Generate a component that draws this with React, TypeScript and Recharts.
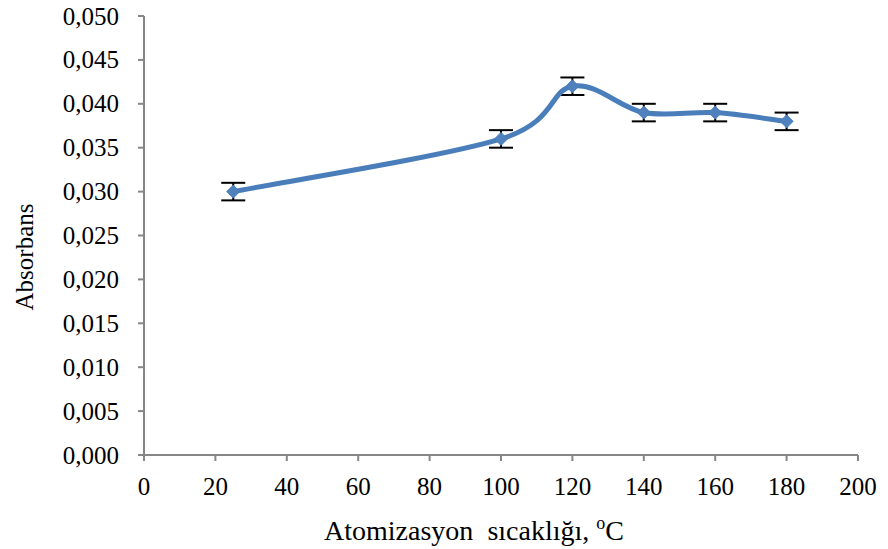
import React from 'react';
import { LineChart, Line, XAxis, YAxis, ErrorBar, Label } from 'recharts';

const temps = [25, 100, 120, 140, 160, 180];
const absorbans = [0.030, 0.036, 0.042, 0.039, 0.039, 0.038];
const errors = [0.001, 0.001, 0.001, 0.001, 0.001, 0.001];
const xTicks = [0, 20, 40, 60, 80, 100, 120, 140, 160, 180, 200];
const yTicks = [0, 0.005, 0.01, 0.015, 0.02, 0.025, 0.03, 0.035, 0.04, 0.045, 0.05];

const data = temps.map((t, i) => ({ t, a: absorbans[i], err: errors[i] }));

const FONT = 'Liberation Serif';
const FS = 25;
const AXIS = '#868686';

// excel-like smoothing (catmull-rom as bezier)
const excelSmooth = (context: any) => {
  let pts: number[][] = [];
  return {
    areaStart() {},
    areaEnd() {},
    lineStart() {
      pts = [];
    },
    lineEnd() {
      const n = pts.length;
      if (!n) return;
      context.moveTo(pts[0][0], pts[0][1]);
      for (let i = 0; i < n - 1; i++) {
        const p0 = pts[Math.max(i - 1, 0)];
        const p1 = pts[i];
        const p2 = pts[i + 1];
        const p3 = pts[Math.min(i + 2, n - 1)];
        context.bezierCurveTo(
          p1[0] + (p2[0] - p0[0]) / 6,
          p1[1] + (p2[1] - p0[1]) / 6,
          p2[0] - (p3[0] - p1[0]) / 6,
          p2[1] - (p3[1] - p1[1]) / 6,
          p2[0],
          p2[1]
        );
      }
    },
    point(x: number, y: number) {
      pts.push([+x, +y]);
    },
  };
};

const Diamond = (props: any) => {
  const { cx, cy, index } = props;
  const s = 6.5;
  return (
    <path
      key={`d-${index}`}
      d={`M${cx},${cy - s}L${cx + s},${cy}L${cx},${cy + s}L${cx - s},${cy}Z`}
      fill="#4F81BD"
      stroke="#4A7EBB"
      strokeWidth={1}
    />
  );
};

const XTick = (props: any) => {
  const { x, y, payload } = props;
  return (
    <text className="serif" x={x} y={y + 18} textAnchor="middle" fontFamily={FONT} fontSize={FS} fill="#000">
      {payload.value}
    </text>
  );
};

const YTick = (props: any) => {
  const { x, y, payload } = props;
  return (
    <text className="serif" x={x} y={y + 8.5} textAnchor="end" fontFamily={FONT} fontSize={FS} fill="#000">
      {payload.value.toFixed(3).replace('.', ',')}
    </text>
  );
};

const XTitle = () => (
  <text className="serif" x={474} y={540} textAnchor="middle" fontFamily={FONT} fontSize={28} fill="#000">
    Atomizasyon{'\u00a0\u00a0'}sıcaklığı, <tspan dy={-11} fontSize={18}>o</tspan>
    <tspan dy={11}>C</tspan>
  </text>
);

const YTitle = () => (
  <text
    className="serif"
    x={33}
    y={257}
    transform="rotate(-90, 33, 257)"
    textAnchor="middle"
    fontFamily={FONT}
    fontSize={FS}
    fill="#000"
  >
    Absorbans
  </text>
);

export default function App() {
  return (
    <div style={{ position: 'absolute', left: 0, top: 0, background: '#fff' }}>
      <style>{`.recharts-wrapper text, text.serif { font-family: 'Liberation Serif', serif !important; }`}</style>
      <LineChart width={888} height={549} data={data} margin={{ top: 16, right: 30, left: 0, bottom: 0 }}>
        <XAxis
          dataKey="t"
          type="number"
          domain={[0, 200]}
          ticks={xTicks}
          interval={0}
          height={94}
          stroke={AXIS}
          strokeWidth={2}
          tickSize={6}
          tickMargin={16}
          tick={<XTick />}
        >
          <Label content={<XTitle />} />
        </XAxis>
        <YAxis
          type="number"
          domain={[0, 0.05]}
          ticks={yTicks}
          interval={0}
          width={144}
          stroke={AXIS}
          strokeWidth={2}
          tickSize={6}
          tickMargin={19}
          tick={<YTick />}
        >
          <Label content={<YTitle />} />
        </YAxis>
        <Line
          dataKey="a"
          type={excelSmooth as any}
          stroke="#4A7EBB"
          strokeWidth={5}
          dot={<Diamond />}
          activeDot={false}
          isAnimationActive={false}
        >
          <ErrorBar dataKey="err" direction="y" width={12} stroke="#000" strokeWidth={2} />
        </Line>
      </LineChart>
    </div>
  );
}
